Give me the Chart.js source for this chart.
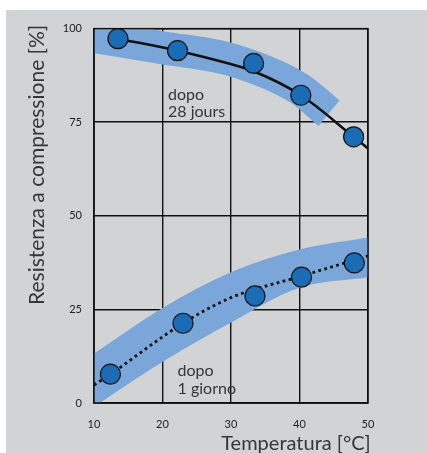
<!DOCTYPE html>
<html>
<head>
<meta charset="utf-8">
<script src="https://cdn.jsdelivr.net/npm/chart.js@4.4.1/dist/chart.umd.min.js"></script>
<style>
  html, body { margin: 0; padding: 0; background: #ffffff; }
  #panel { position: absolute; left: 6px; top: 10px; width: 421px; height: 443px; background: #d1d3d4; }
  canvas { display: block; }
</style>
</head>
<body>
<div id="panel"><canvas id="chart" width="421" height="443"></canvas></div>
<script>
// Axis ticks
const temperatureTicks = [10, 20, 30, 40, 50];
const strengthTicks = [0, 25, 50, 75, 100];

// Measured strength after 28 days
const temps28d = [13.5, 22.2, 33.3, 40.2, 47.9];
const strength28d = [97.3, 94.1, 90.7, 82.2, 71.1];
// Trend curve after 28 days
const curve28dTemps = [13.5, 22.2, 29.8, 33.3, 40.2, 47.9, 50];
const curve28dValues = [97.3, 94.1, 90.6, 88.6, 82.2, 71.1, 68.0];
// Scatter band after 28 days (centre line of the band)
const band28dTemps = [9, 10, 20, 29.8, 40, 44.3];
const band28dValues = [98.2, 97.9, 94.9, 91.8, 83.9, 77.4];

// Measured strength after 1 day
const temps1d = [12.4, 23.0, 33.5, 40.3, 48.0];
const strength1d = [7.7, 21.3, 28.6, 33.6, 37.4];
// Trend curve after 1 day
const curve1dTemps = [10, 12.4, 23.0, 29.8, 40.3, 50];
const curve1dValues = [4.8, 7.7, 21.3, 28.0, 33.9, 39.3];
// Scatter band after 1 day (upper and lower edges)
const band1dTemps = [9, 10, 20, 29.8, 40, 50, 51];
const band1dUpper = [12.0, 13.2, 25.4, 34.8, 41.0, 44.2, 44.5];
const band1dLower = [-2.2, -1.0, 11.0, 21.3, 30.8, 33.6, 33.9];

// Text
const yTitle = 'Resistenza a compressione [%]';
const xTitle = 'Temperatura [°C]';
const label28d = ['dopo', '28 jours'];
const label1d = ['dopo', '1 giorno'];

const toPoints = (xs, ys) => xs.map((x, i) => ({ x: x, y: ys[i] }));

const BAND = '#7ba6d9';
const MARK = '#1a6cb5';
const INK = '#111111';
const TEXT = '#363636';
const FONT = 'Lato, "Open Sans", sans-serif';

const markerStyle = {
  showLine: false,
  pointRadius: 10,
  pointHoverRadius: 10,
  pointBackgroundColor: MARK,
  pointBorderColor: INK,
  pointBorderWidth: 1.2,
  order: 0
};

// Frame on top of the bands, axis titles and curve captions
const overlay = {
  id: 'overlay',
  afterDatasetsDraw(chart) {
    const { ctx, chartArea: a, scales: { x, y } } = chart;
    ctx.save();
    ctx.strokeStyle = INK;
    ctx.lineWidth = 1.4;
    ctx.strokeRect(a.left, a.top, a.right - a.left, a.bottom - a.top);

    ctx.fillStyle = TEXT;
    ctx.textBaseline = 'alphabetic';
    ctx.textAlign = 'left';
    ctx.font = '16px ' + FONT;
    const captions = [
      { lines: label28d, x: 20.8, y: 81.0 },
      { lines: label1d, x: 22.2, y: 7.2 }
    ];
    captions.forEach(c => {
      const px = x.getPixelForValue(c.x);
      const py = y.getPixelForValue(c.y);
      c.lines.forEach((t, i) => ctx.fillText(t, px, py + i * 17.5));
    });

    ctx.font = '20px ' + FONT;
    ctx.textAlign = 'right';
    ctx.fillText(xTitle, a.right + 2.7, a.bottom + 47.4);

    ctx.save();
    ctx.translate(a.left - 50.5, a.bottom - 98);
    ctx.rotate(-Math.PI / 2);
    ctx.textAlign = 'left';
    ctx.font = '21px ' + FONT;
    ctx.fillText(yTitle, 0, 0);
    ctx.restore();
    ctx.restore();
  }
};

function draw() {
  new Chart(document.getElementById('chart'), {
    type: 'scatter',
    data: {
      datasets: [
        Object.assign({ label: '28 giorni', data: toPoints(temps28d, strength28d) }, markerStyle),
        Object.assign({ label: '1 giorno', data: toPoints(temps1d, strength1d) }, markerStyle),
        {
          label: 'curva 28 giorni',
          data: toPoints(curve28dTemps, curve28dValues),
          showLine: true,
          pointRadius: 0,
          borderColor: INK,
          borderWidth: 2.6,
          cubicInterpolationMode: 'monotone',
          clip: 0,
          order: 1
        },
        {
          label: 'curva 1 giorno',
          data: toPoints(curve1dTemps, curve1dValues),
          showLine: true,
          pointRadius: 0,
          borderColor: INK,
          borderWidth: 2.8,
          borderDash: [2.8, 3.4],
          cubicInterpolationMode: 'monotone',
          clip: 0,
          order: 1
        },
        {
          label: 'fascia 28 giorni',
          data: toPoints(band28dTemps, band28dValues),
          showLine: true,
          pointRadius: 0,
          borderColor: BAND,
          borderWidth: 33,
          borderCapStyle: 'butt',
          cubicInterpolationMode: 'monotone',
          clip: 0,
          order: 2
        },
        {
          label: 'fascia 1 giorno sup',
          data: toPoints(band1dTemps, band1dUpper),
          showLine: true,
          pointRadius: 0,
          borderWidth: 0,
          borderColor: 'transparent',
          cubicInterpolationMode: 'monotone',
          fill: false,
          clip: 0,
          order: 2
        },
        {
          label: 'fascia 1 giorno inf',
          data: toPoints(band1dTemps, band1dLower),
          showLine: true,
          pointRadius: 0,
          borderWidth: 0,
          borderColor: 'transparent',
          backgroundColor: BAND,
          cubicInterpolationMode: 'monotone',
          fill: 5,
          clip: 0,
          order: 2
        }
      ]
    },
    options: {
      responsive: false,
      animation: false,
      events: [],
      layout: { padding: { top: 15, right: 59, bottom: 0, left: 0 } },
      plugins: { legend: { display: false }, tooltip: { enabled: false } },
      scales: {
        x: {
          type: 'linear',
          min: 10,
          max: 50,
          afterBuildTicks: s => { s.ticks = temperatureTicks.map(v => ({ value: v })); },
          afterFit: s => { s.height = 50; },
          ticks: { padding: 15, color: '#222', font: { family: FONT, size: 11 } },
          grid: { color: INK, lineWidth: 1.4, drawTicks: false },
          border: { color: INK, width: 1.4 }
        },
        y: {
          type: 'linear',
          min: 0,
          max: 100,
          afterBuildTicks: s => { s.ticks = strengthTicks.map(v => ({ value: v })); },
          afterFit: s => { s.width = 88; },
          ticks: { padding: 12, color: '#222', font: { family: FONT, size: 11 } },
          grid: { color: INK, lineWidth: 1.4, drawTicks: false },
          border: { color: INK, width: 1.4 }
        }
      }
    },
    plugins: [overlay]
  });
}

if (document.fonts && document.fonts.load) {
  Promise.all([document.fonts.load('16px Lato'), document.fonts.load('11px Lato')]).then(draw, draw);
} else {
  draw();
}
</script>
</body>
</html>
